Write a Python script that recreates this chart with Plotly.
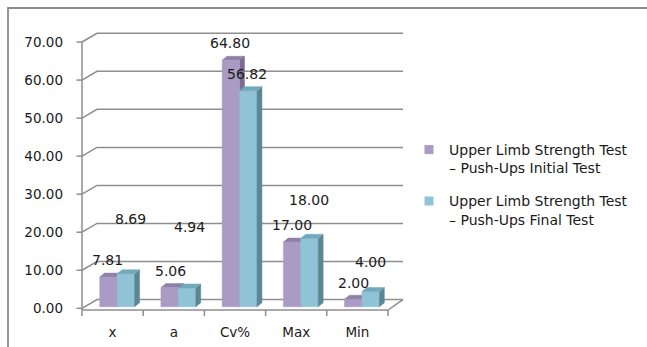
import plotly.graph_objects as go

# ---- data -------------------------------------------------------------
categories = ["x", "a", "Cv%", "Max", "Min"]
initial_test = [7.81, 5.06, 64.80, 17.00, 2.00]
final_test = [8.69, 4.94, 56.82, 18.00, 4.00]
series_names = [
    "Upper Limb Strength Test<br>– Push-Ups Initial Test",
    "Upper Limb Strength Test<br>– Push-Ups Final Test",
]
y_ticks = [0, 10, 20, 30, 40, 50, 60, 70]

# ---- styling ----------------------------------------------------------
FONT = "DejaVu Sans"
TEXT = "#1a1a1a"
GRID = "#8e8e8e"
PURPLE = dict(front="#a99bc3", side="#7d6d93", top="#8f80a8")
BLUE = dict(front="#8fc3d5", side="#5b8794", top="#72aabb")

# pseudo-3D geometry (axis units)
WALL_DX, WALL_DY = 0.245, 2.3      # depth of the back wall
BAR_DX, BAR_DY = 0.08, 1.05        # depth of each bar
BAR_W = 0.285
BAR_LEFT = [-0.21, -0.21 + BAR_W]  # left edge of each series relative to the category
BAR_BASE = 0.4
FLOOR_Y = -0.45
X0, X1 = -0.5, len(categories) - 0.5

# label placement relative to (category, value)
init_lbl_dx = [-0.09, -0.06, -0.08, -0.07, -0.06]
init_lbl_dy = [4.9, 4.8, 4.9, 4.8, 4.7]
final_lbl_dx = [0.30, 0.26, 0.20, 0.21, 0.22]
final_lbl_dy = [14.7, 16.4, 4.8, 10.4, 8.1]

# canvas / plot area in pixels
W, H = 647, 347
L, R, T, B = 72, 420, 25, 318
PX_X, PX_Y = 61.2, 3.804          # pixels per axis unit
ZERO_PX_X, ZERO_PX_Y = 82, 308.3  # pixel position of x=-0.5 and y=0
x_range = [X0 - (ZERO_PX_X - L) / PX_X, X0 + (R - ZERO_PX_X) / PX_X]
y_range = [(ZERO_PX_Y - B) / PX_Y, (ZERO_PX_Y - T) / PX_Y]


def paper_x(px):
    return (px - L) / (R - L)


def paper_y(py):
    return (B - py) / (B - T)


fig = go.Figure()


def add_lines(xs, ys, width=1.5, color=GRID):
    fig.add_trace(go.Scatter(x=xs, y=ys, mode="lines", showlegend=False,
                             hoverinfo="skip",
                             line=dict(color=color, width=width)))


# ---- walls, floor and axis -------------------------------------------
gx, gy = [], []
for v in y_ticks:
    gx += [X0, X0 + WALL_DX, X1 + WALL_DX, None]
    gy += [v, v + WALL_DY, v + WALL_DY, None]
add_lines(gx, gy)

# floor outline
add_lines([X0, X1, X1 + WALL_DX], [FLOOR_Y, FLOOR_Y, WALL_DY])

# value axis line and tick marks
add_lines([X0, X0], [FLOOR_Y, y_ticks[-1]])
tx, ty = [], []
for v in y_ticks:
    tx += [X0 - 0.09, X0, None]
    ty += [v, v, None]
add_lines(tx, ty)

# category boundary ticks
cx, cy = [], []
for i in range(len(categories) + 1):
    b = X0 + i
    cx += [b, b, None]
    cy += [FLOOR_Y, FLOOR_Y - 1.6, None]
add_lines(cx, cy)


# ---- bars -------------------------------------------------------------
def faces(values, left):
    front_x, front_y, side_x, side_y, top_x, top_y = [], [], [], [], [], []
    for i, v in enumerate(values):
        a, b = i + left, i + left + BAR_W
        lo, hi = BAR_BASE, BAR_BASE + v
        front_x += [a, b, b, a, a, None]
        front_y += [lo, lo, hi, hi, lo, None]
        side_x += [b, b + BAR_DX, b + BAR_DX, b, b, None]
        side_y += [lo, lo + BAR_DY, hi + BAR_DY, hi, lo, None]
        top_x += [a, b, b + BAR_DX, a + BAR_DX, a, None]
        top_y += [hi, hi, hi + BAR_DY, hi + BAR_DY, hi, None]
    return (front_x, front_y), (side_x, side_y), (top_x, top_y)


def add_face(xy, color):
    fig.add_trace(go.Scatter(x=xy[0], y=xy[1], mode="lines", fill="toself",
                             fillcolor=color, showlegend=False, hoverinfo="skip",
                             line=dict(width=0.5, color=color)))


pf, ps, pt = faces(initial_test, BAR_LEFT[0])
bf, bs, bt = faces(final_test, BAR_LEFT[1])
add_face(pt, PURPLE["top"])
add_face(ps, PURPLE["side"])
add_face(pf, PURPLE["front"])
add_face(bf, BLUE["front"])
add_face(bs, BLUE["side"])
add_face(bt, BLUE["top"])

# legend entries
for name, col, grp in [(series_names[0], PURPLE["front"], "g1"),
                       (series_names[1], BLUE["front"], "g2")]:
    fig.add_trace(go.Scatter(x=[None], y=[None], mode="markers", name=name,
                             legendgroup=grp,
                             marker=dict(symbol="square", size=9, color=col)))

# ---- value labels -----------------------------------------------------
for i, v in enumerate(initial_test):
    fig.add_annotation(x=i + init_lbl_dx[i], y=v + init_lbl_dy[i],
                       text=f"{v:.2f}", showarrow=False,
                       font=dict(family=FONT, size=14, color=TEXT))
for i, v in enumerate(final_test):
    fig.add_annotation(x=i + final_lbl_dx[i], y=v + final_lbl_dy[i],
                       text=f"{v:.2f}", showarrow=False,
                       font=dict(family=FONT, size=14, color=TEXT))

# outer chart border
fig.add_shape(type="rect", xref="paper", yref="paper",
              x0=paper_x(8), x1=paper_x(W + 20), y0=paper_y(H + 20), y1=paper_y(8),
              line=dict(color="#8a8a8a", width=1.8), fillcolor="rgba(0,0,0,0)")

fig.update_layout(
    width=W, height=H,
    margin=dict(l=L, r=W - R, t=T, b=H - B, pad=0, autoexpand=False),
    paper_bgcolor="white", plot_bgcolor="white",
    font=dict(family=FONT, size=14, color=TEXT),
    xaxis=dict(range=x_range, tickmode="array", tickvals=list(range(len(categories))),
               ticktext=categories, showgrid=False, zeroline=False, showline=False,
               ticks="", ticklabelstandoff=4, tickfont=dict(size=13.5, color=TEXT),
               automargin=False, fixedrange=True),
    yaxis=dict(range=y_range, tickmode="array", tickvals=y_ticks,
               ticktext=[f"{v:.2f}" for v in y_ticks], showgrid=False,
               zeroline=False, showline=False, ticks="", ticklabelstandoff=8,
               tickfont=dict(size=13.5, color=TEXT), automargin=False,
               fixedrange=True),
    legend=dict(x=paper_x(409), y=paper_y(134), xanchor="left", yanchor="top",
                valign="top", tracegroupgap=12, bgcolor="rgba(0,0,0,0)",
                font=dict(family=FONT, size=14, color=TEXT)),
    showlegend=True,
)

fig.write_html("out.html")
